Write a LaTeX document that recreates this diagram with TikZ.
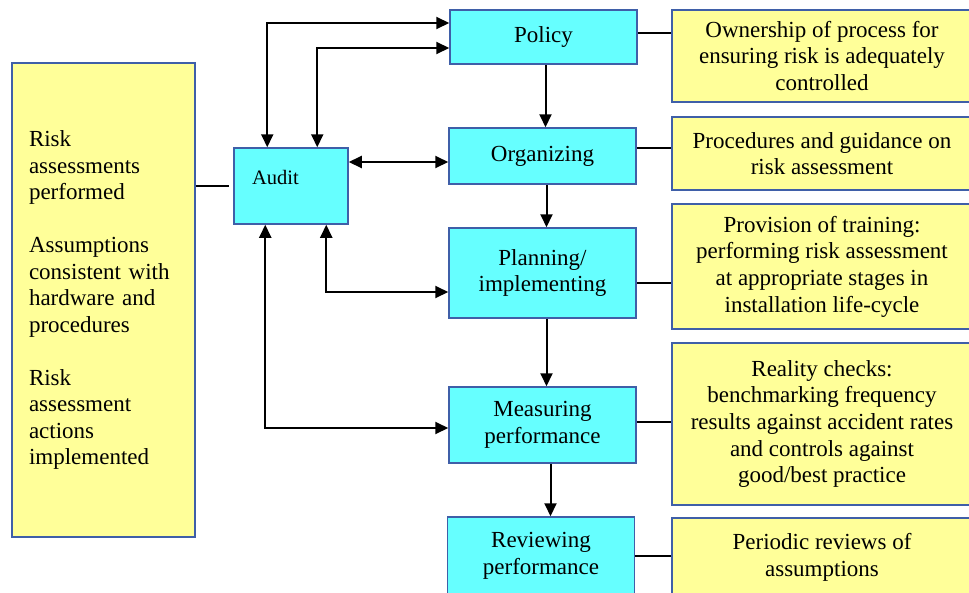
\documentclass[tikz,border=0pt]{standalone}
\usepackage{fontspec}
\setmainfont{Liberation Serif}
\usetikzlibrary{arrows.meta}
\definecolor{boxcyan}{HTML}{66FFFF}
\definecolor{boxyellow}{HTML}{FFFF99}
\definecolor{boxedge}{HTML}{3F5FA8}
\begin{document}
\begin{tikzpicture}[x=1pt,y=-1pt,
    >={Triangle[length=13pt,width=12pt]},
    stage/.style = {draw=boxedge, line width=1.5pt, fill=boxcyan,
        minimum width=187pt, align=center, inner sep=0pt,
        font=\fontsize{23}{26.7}\selectfont},
    note/.style = {draw=boxedge, line width=1.5pt, fill=boxyellow,
        minimum width=300pt, align=center, inner sep=0pt,
        font=\fontsize{23}{26.7}\selectfont},
    link/.style = {line width=2pt}]
    \clip (0,0) rectangle (969,592);
    \node[note, minimum width=183pt, minimum height=474pt, text width=149pt,
        align=left, font=\fontsize{23}{26.5}\selectfont] (risk) at (103.5,300)
        {Risk\\assessments\\performed\\[26.5pt]Assumptions\\consistent with\\hardware and\\procedures\\[26.5pt]Risk\\assessment\\actions\\implemented};
    \node[stage, minimum width=114pt, minimum height=76pt, text width=78pt,
        align=left, text depth=18pt, font=\fontsize{20.5}{24}\selectfont]
        (audit) at (291,186) {Audit};
    \node[stage, minimum height=54pt] (policy) at (543.5,37) {Policy};
    \node[stage, minimum height=56pt] (organizing) at (542.5,156) {Organizing};
    \node[stage, minimum height=90pt] (planning) at (542.5,273) {Planning/\\implementing};
    \node[stage, minimum height=76pt] (measuring) at (542.5,425) {Measuring\\performance};
    \node[stage, minimum height=78pt] (reviewing) at (541,556) {Reviewing\\performance};
    \node[note, minimum height=92pt] (own) at (822,56)
        {Ownership of process for\\ensuring risk is adequately\\controlled};
    \node[note, minimum height=73pt] (proc) at (822,153.5)
        {Procedures and guidance on\\risk assessment};
    \node[note, minimum height=125pt] (prov) at (822,266.5)
        {Provision of training:\\performing risk assessment\\at appropriate stages in\\installation life-cycle};
    \node[note, minimum height=162pt] (real) at (822,424)
        {Reality checks:\\benchmarking frequency\\results against accident rates\\and controls against\\good/best practice};
    \node[note, minimum height=78pt] (peri) at (822,557)
        {Periodic reviews of\\assumptions};
    % main sequence
    \draw[link,->] ([xshift=2pt]policy.south) -- ([xshift=2pt]policy.south |- organizing.north);
    \draw[link,->] ([xshift=4pt]organizing.south) -- ([xshift=4pt]organizing.south |- planning.north);
    \draw[link,->] ([xshift=4pt]planning.south) -- ([xshift=4pt]planning.south |- measuring.north);
    \draw[link,->] ([xshift=8pt]measuring.south) -- ([xshift=8pt]measuring.south |- reviewing.north);
    % audit loops
    \draw[link,<->] ([xshift=34pt]audit.north west) |- ([yshift=14pt]policy.west);
    \draw[link,<->] ([xshift=84pt]audit.north west) |- ([yshift=-11pt]policy.west);
    \draw[link,<->] ([yshift=-6pt]organizing.west -| audit.east) -- ([yshift=-6pt]organizing.west);
    \draw[link,<->] ([xshift=93pt]audit.south west) |- ([yshift=-19pt]planning.west);
    \draw[link,<->] ([xshift=32pt]audit.south west) |- ([yshift=-3pt]measuring.west);
    % notes
    \draw[link, shorten >=4pt] (audit.west -| risk.east) -- (audit.west);
    \draw[link] ([yshift=4pt]policy.east) -- ([yshift=4pt]policy.east -| own.west);
    \draw[link] ([yshift=8pt]organizing.east) -- ([yshift=8pt]organizing.east -| proc.west);
    \draw[link] ([yshift=-10pt]planning.east) -- ([yshift=-10pt]planning.east -| prov.west);
    \draw[link] ([yshift=3pt]measuring.east) -- ([yshift=3pt]measuring.east -| real.west);
    \draw[link] (reviewing.east) -- (reviewing.east -| peri.west);
\end{tikzpicture}
\end{document}
